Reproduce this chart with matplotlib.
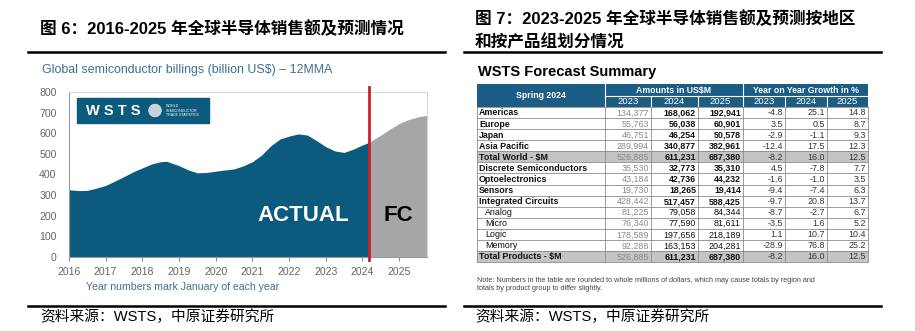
import matplotlib
matplotlib.use("Agg")
import matplotlib.pyplot as plt
from matplotlib.patches import Rectangle, Circle

SANS = ['Liberation Sans', 'Noto Sans CJK SC']

# ---- left chart data (billion US$, 12MMA) ----
actual_x = [2016.0, 2016.25, 2016.5, 2016.75, 2017.0, 2017.25, 2017.5, 2017.75,
            2018.0, 2018.25, 2018.5, 2018.66, 2019.0, 2019.25, 2019.5, 2019.75,
            2020.0, 2020.25, 2020.5, 2020.75, 2021.0, 2021.25, 2021.5, 2021.75,
            2022.0, 2022.25, 2022.5, 2022.75, 2023.0, 2023.25, 2023.5, 2023.75,
            2024.0, 2024.18]
actual_y = [326, 322, 323, 334, 347, 368, 390, 413,
            432, 451, 462, 464, 443, 422, 408, 410,
            416, 422, 427, 442, 462, 494, 539, 572,
            586, 597, 591, 564, 535, 514, 507, 523,
            543, 556]
fc_x = [2024.18, 2024.5, 2024.75, 2025.0, 2025.25, 2025.5, 2025.76]
fc_y = [556, 591, 620, 647, 666, 679, 687]
year_ticks = list(range(2016, 2026))
y_ticks = [0, 100, 200, 300, 400, 500, 600, 700, 800]
split_year = 2024.18

# ---- right table data ----
rows = ["Americas", "Europe", "Japan", "Asia Pacific", "Total World - $M",
        "Discrete Semiconductors", "Optoelectronics", "Sensors",
        "Integrated Circuits", "Analog", "Micro", "Logic", "Memory",
        "Total Products - $M"]
amt_2023 = [134377, 55763, 46751, 289994, 526885, 35530, 43184, 19730,
            428442, 81225, 76340, 178589, 92288, 526885]
amt_2024 = [168062, 56038, 46254, 340877, 611231, 32773, 42736, 18265,
            517457, 79058, 77590, 197656, 163153, 611231]
amt_2025 = [192941, 60901, 50578, 382961, 687380, 35310, 44232, 19414,
            588425, 84344, 81611, 218189, 204281, 687380]
g_2023 = [-4.8, 3.5, -2.9, -12.4, -8.2, 4.5, -1.6, -9.4, -9.7, -8.7, -3.5, 1.1, -28.9, -8.2]
g_2024 = [25.1, 0.5, -1.1, 17.5, 16.0, -7.8, -1.0, -7.4, 20.8, -2.7, 1.6, 10.7, 76.8, 16.0]
g_2025 = [14.8, 8.7, 9.3, 12.3, 12.5, 7.7, 3.5, 6.3, 13.7, 6.7, 5.2, 10.4, 25.2, 12.5]
sub_rows = {"Analog", "Micro", "Logic", "Memory"}
total_rows = {"Total World - $M", "Total Products - $M"}
years = ["2023", "2024", "2025"]

fig = plt.figure(figsize=(9.15, 3.31), dpi=100)

# overlay in pixel coordinates for titles, rules and the table
ov = fig.add_axes([0, 0, 1, 1])
ov.set_xlim(0, 915)
ov.set_ylim(331, 0)
ov.axis('off')
ov.patch.set_alpha(0)

# titles
tfont = dict(family=SANS, fontsize=12, fontweight='bold', va='center', ha='left')
ov.text(40, 29, "图 6：2016-2025 年全球半导体销售额及预测情况", **tfont)
ov.text(475, 19, "图 7：2023-2025 年全球半导体销售额及预测按地区", **tfont)
ov.text(475, 42, "和按产品组划分情况", **tfont)

# black rules
for x0, x1 in [(28, 445), (464, 881)]:
    ov.plot([x0, x1], [52, 52], color='black', lw=1.8)
    ov.plot([x0, x1], [306, 306], color='black', lw=1.8)

# sources
for x in [40, 475]:
    ov.text(x, 317, "资料来源：WSTS，中原证券研究所", family=SANS, fontsize=10.6,
            va='center', ha='left')

# ---- left chart ----
teal = '#3f6f8c'
ov.text(42, 70, "Global semiconductor billings (billion US$) \u2013 12MMA",
        family=SANS, fontsize=8.9, color=teal, va='center', ha='left')
ov.text(86, 287, "Year numbers mark January of each year", family=SANS,
        fontsize=7.6, color=teal, va='center', ha='left')

ax = fig.add_axes([69 / 915, (331 - 257) / 331, (427 - 69) / 915, (257 - 92) / 331])
ax.fill_between(actual_x, actual_y, color='#0c5a7e', lw=0)
ax.fill_between(fc_x, fc_y, color='#a6a6a6', lw=0)
ax.set_xlim(2016, 2025.76)
ax.set_ylim(0, 800)
ax.set_xticks(year_ticks)
ax.set_yticks(y_ticks)
ax.tick_params(axis='x', length=3, color='#8c8c8c', labelsize=7.6,
               labelcolor='#666666', pad=4)
ax.tick_params(axis='y', length=0, labelsize=7.6, labelcolor='#666666', pad=9)
for lab in ax.get_xticklabels() + ax.get_yticklabels():
    lab.set_family(SANS)
for s in ['top', 'right']:
    ax.spines[s].set_color('#d6d6d6')
    ax.spines[s].set_linewidth(0.8)
for s in ['left', 'bottom']:
    ax.spines[s].set_color('#9a9a9a')
    ax.spines[s].set_linewidth(0.8)
ax.plot([split_year, split_year], [-0.02, 1.03], color='#c8202b', lw=2,
        transform=ax.get_xaxis_transform(), clip_on=False, zorder=5)
ax.text(0.655, 0.25, "ACTUAL", transform=ax.transAxes, color='white',
        fontsize=16, fontweight='bold', family=SANS, ha='center', va='center')
ax.text(0.92, 0.25, "FC", transform=ax.transAxes, color='black',
        fontsize=16, fontweight='bold', family=SANS, ha='center', va='center')

# WSTS logo box (pixel coordinates of the overlay)
ax.add_patch(Rectangle((77, 98), 132, 25, transform=ov.transData,
                       color='#0c5a7e', zorder=4, clip_on=False))
ax.text(86, 111, "W S T S", transform=ov.transData, color='white', fontsize=10.5,
        fontweight='bold', family=SANS, ha='left', va='center', zorder=5)
ax.add_patch(Circle((155, 110.5), 6.3, transform=ov.transData,
                    facecolor='#c7d1d8', edgecolor='#e6ecf0', lw=0.5, zorder=5))
ax.text(166, 110.5, "WORLD\nSEMICONDUCTOR\nTRADE STATISTICS",
        transform=ov.transData, color='white', fontsize=2.6, family=SANS,
        ha='left', va='center', linespacing=1.1, zorder=5)

# ---- right table ----
ov.text(478, 72, "WSTS Forecast Summary", family=SANS, fontsize=10.5,
        fontweight='bold', va='center', ha='left')

edges = [477, 605, 651, 698, 743, 785, 827, 868]
h_top, h_mid, h_bot = 84, 95.5, 107
row_h = 11.08
fs = 6.4
head_c = '#1c5d86'
ov.add_patch(Rectangle((edges[0], h_top), edges[-1] - edges[0], h_bot - h_top,
                       color=head_c, lw=0))
ov.plot([edges[1], edges[-1]], [h_mid, h_mid], color='white', lw=0.8)
for x in [edges[1], edges[4]]:
    ov.plot([x, x], [h_top, h_bot], color='white', lw=0.8)
for x in [edges[2], edges[3], edges[5], edges[6]]:
    ov.plot([x, x], [h_mid, h_bot], color='white', lw=0.8)
hfont = dict(family=SANS, fontsize=6.3, fontweight='bold', color='white',
             va='center', ha='center')
ov.text((edges[0] + edges[1]) / 2, (h_top + h_bot) / 2, "Spring 2024", **hfont)
ov.text((edges[1] + edges[4]) / 2, (h_top + h_mid) / 2 + 0.5, "Amounts in US$M", **hfont)
ov.text((edges[4] + edges[7]) / 2, (h_top + h_mid) / 2 + 0.5, "Year on Year Growth in %", **hfont)
for k in range(6):
    ov.text((edges[k + 1] + edges[k + 2]) / 2, (h_mid + h_bot) / 2 + 0.5, years[k % 3],
            **{**hfont, 'fontweight': 'normal', 'fontsize': 6.8})

for i, name in enumerate(rows):
    y0 = h_bot + i * row_h
    yc = y0 + row_h / 2 + 0.4
    if name in total_rows:
        ov.add_patch(Rectangle((edges[0], y0), edges[-1] - edges[0], row_h,
                               color='#c4c4c4', lw=0))
    ov.plot([edges[0], edges[-1]], [y0 + row_h, y0 + row_h], color='#8a8a8a', lw=0.6)
    sub = name in sub_rows
    w = 'normal' if sub else 'bold'
    ov.text(edges[0] + (8 if sub else 2), yc, name, family=SANS, fontsize=fs,
            fontweight=w, color='#111111', va='center', ha='left')
    ov.text(edges[2] - 2, yc, f"{amt_2023[i]:,}", family=SANS, fontsize=fs,
            color='#8a8a8a', va='center', ha='right')
    ov.text(edges[3] - 2, yc, f"{amt_2024[i]:,}", family=SANS, fontsize=fs,
            fontweight=w, color='#111111', va='center', ha='right')
    ov.text(edges[4] - 2, yc, f"{amt_2025[i]:,}", family=SANS, fontsize=fs,
            fontweight=w, color='#111111', va='center', ha='right')
    for k, g in enumerate([g_2023, g_2024, g_2025]):
        ov.text(edges[5 + k] - 2, yc, f"{g[i]:.1f}", family=SANS, fontsize=fs,
                color='#333333', va='center', ha='right')

t_bot = h_bot + len(rows) * row_h
for x in edges:
    ov.plot([x, x], [h_bot, t_bot], color='#8a8a8a', lw=0.6)
ov.plot([edges[0], edges[-1]], [h_bot, h_bot], color='#8a8a8a', lw=0.6)

ov.text(477, 280, "Note: Numbers in the table are rounded to whole millions of dollars, "
        "which may cause totals by region and", family=SANS, fontsize=5.2,
        color='#444444', va='center', ha='left')
ov.text(477, 289, "totals by product group to differ slightly.", family=SANS,
        fontsize=5.2, color='#444444', va='center', ha='left')

fig.savefig("out.png", dpi=100)
